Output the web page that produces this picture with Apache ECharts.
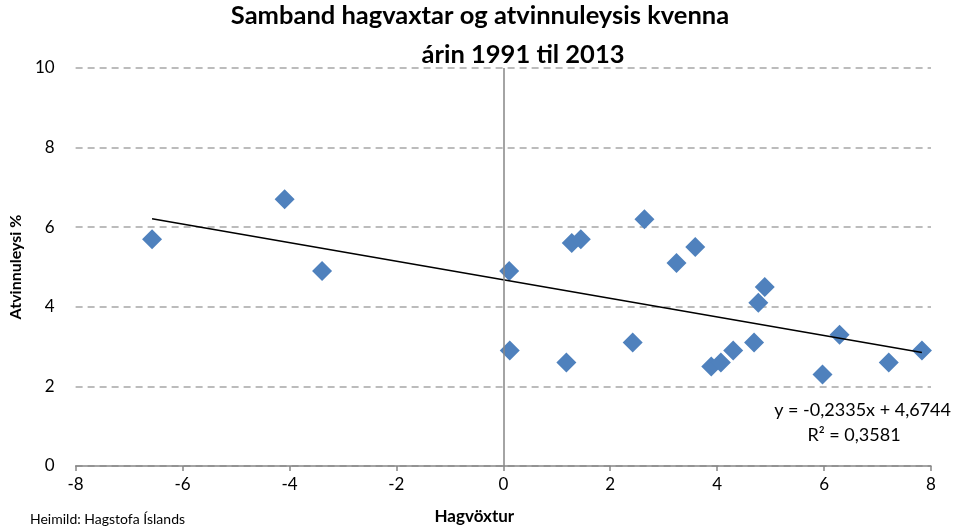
<!DOCTYPE html>
<html>
<head>
<meta charset="utf-8">
<script src="https://cdn.jsdelivr.net/npm/echarts@6/dist/echarts.min.js"></script>
<style>
  html, body { margin: 0; padding: 0; background: #fff; }
  #chart { width: 954px; height: 530px; }
</style>
</head>
<body>
<div id="chart"></div>
<script>
// hagvöxtur (%) og atvinnuleysi kvenna (%)
const growth = [-6.57, -4.09, -3.39, 0.11, 0.12, 1.18, 1.28, 1.45, 2.42, 2.64, 3.24,
  3.59, 3.89, 4.07, 4.30, 4.69, 4.77, 4.89, 5.97, 6.29, 7.21, 7.83]
const unemployment = [5.7, 6.7, 4.9, 4.9, 2.9, 2.6, 5.6, 5.7, 3.1, 6.2, 5.1,
  5.5, 2.5, 2.6, 2.9, 3.1, 4.1, 4.5, 2.3, 3.3, 2.6, 2.9]
// endapunktar leitnilínu
const trendX = [-6.57, 7.83]
const trendY = [6.21, 2.85]
const xTicks = [-8, -6, -4, -2, 0, 2, 4, 6, 8]
const yTicks = [0, 2, 4, 6, 8, 10]

const font = 'Lato, "Open Sans", sans-serif'
const chart = echarts.init(document.getElementById('chart'))

chart.setOption({
  animation: false,
  textStyle: { fontFamily: font },
  grid: { left: 71, right: 23, top: 68, bottom: 63 },
  graphic: [
    { type: 'text', x: 480, y: 3, style: { text: 'Samband hagvaxtar og atvinnuleysis kvenna', font: 'bold 25.5px ' + font, fill: '#000', align: 'center' } },
    { type: 'text', x: 523, y: 42, style: { text: 'árin 1991 til 2013', font: 'bold 25.5px ' + font, fill: '#000', align: 'center' } },
    { type: 'text', x: 951, y: 401, style: { text: 'y = -0,2335x + 4,6744', font: '18px ' + font, fill: '#000', align: 'right' } },
    { type: 'text', x: 854, y: 426, style: { text: 'R² = 0,3581', font: '18px ' + font, fill: '#000', align: 'center' } },
    { type: 'text', x: 30, y: 512, style: { text: 'Heimild: Hagstofa Íslands', font: '14px ' + font, fill: '#000' } },
  ],
  xAxis: {
    type: 'value',
    min: xTicks[0],
    max: xTicks[xTicks.length - 1],
    interval: 2,
    name: 'Hagvöxtur',
    nameLocation: 'middle',
    nameGap: 42,
    nameTextStyle: { fontSize: 17, fontWeight: 'bold', color: '#000', padding: [0, 58, 0, 0] },
    axisLine: { onZero: false, lineStyle: { color: '#868686', width: 1.5 } },
    axisTick: { show: true, length: 5, lineStyle: { color: '#868686', width: 1.5 } },
    axisLabel: { fontSize: 17, color: '#000', margin: 10 },
    splitLine: { show: false },
  },
  yAxis: {
    type: 'value',
    min: yTicks[0],
    max: yTicks[yTicks.length - 1],
    interval: 2,
    name: 'Atvinnuleysi %',
    nameLocation: 'middle',
    nameGap: 46,
    nameTextStyle: { fontSize: 16, fontWeight: 'bold', color: '#000' },
    axisLine: { show: false },
    axisTick: { show: false },
    axisLabel: { fontSize: 17, color: '#000', margin: 21 },
    splitLine: { show: true, lineStyle: { color: '#a6a6a6', width: 1.5, type: [7, 5] } },
  },
  series: [
    {
      type: 'scatter',
      data: growth.map((g, i) => [g, unemployment[i]]),
      symbol: 'diamond',
      symbolSize: 20,
      itemStyle: { color: '#4f81bd', opacity: 1 },
      z: 3,
      markLine: {
        silent: true,
        symbol: 'none',
        label: { show: false },
        lineStyle: { color: '#868686', width: 1.5, type: 'solid' },
        data: [{ xAxis: 0 }],
      },
    },
    {
      type: 'line',
      data: trendX.map((x, i) => [x, trendY[i]]),
      showSymbol: false,
      symbol: 'none',
      lineStyle: { color: '#000', width: 1.5 },
      z: 4,
    },
  ],
})
</script>
</body>
</html>
